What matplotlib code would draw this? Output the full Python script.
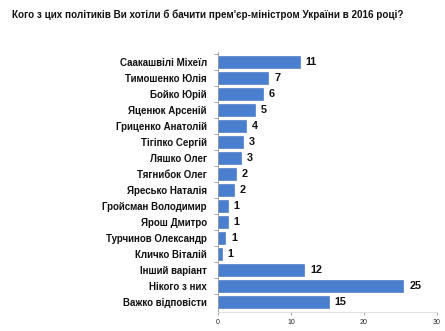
import matplotlib
matplotlib.use("Agg")
import matplotlib.pyplot as plt

categories = ["Саакашвілі Міхеїл", "Тимошенко Юлія", "Бойко Юрій", "Яценюк Арсеній",
              "Гриценко Анатолій", "Тігіпко Сергій", "Ляшко Олег", "Тягнибок Олег",
              "Яресько Наталія", "Гройсман Володимир", "Ярош Дмитро", "Турчинов Олександр",
              "Кличко Віталій", "Інший варіант", "Нікого з них", "Важко відповісти"]
values = [11.2, 6.9, 6.1, 5.1, 3.8, 3.4, 3.1, 2.4, 2.2, 1.3, 1.3, 1.0, 0.5, 11.8, 25.4, 15.2]
labels = ["11", "7", "6", "5", "4", "3", "3", "2", "2", "1", "1", "1", "1", "12", "25", "15"]
xticks = [0, 10, 20, 30]
title = "Кого з цих політиків Ви хотіли б бачити прем'єр-міністром України в 2016 році?"

plt.rcParams['font.family'] = ['Liberation Sans', 'DejaVu Sans']

fig = plt.figure(figsize=(4.45, 3.31), dpi=100)
ax = fig.add_axes([0.49, 0.057, 0.492, 0.786])
n = len(categories)
ypos = list(range(n))
ax.barh(ypos, values, height=0.75, color="#4a7fd0", edgecolor="#3f6fb8", linewidth=0.4)
for y, v, l in zip(ypos, values, labels):
    ax.text(v + 0.8, y, l, va="center", ha="left", fontsize=7.8, fontweight="bold", color="#111111")
ax.set_yticks(ypos)
ax.set_yticklabels(categories, fontsize=7, fontweight="bold", color="#111111")
ax.tick_params(axis="y", length=0, pad=8)
ax.set_yticks([y + 0.5 for y in ypos[:-1]] + [-0.5], minor=True)
ax.tick_params(axis="y", which="minor", length=3, color="#999999", width=0.6)
ax.set_ylim(n - 0.5 + 0.15, -0.5 - 0.15)
ax.set_xlim(0, 30)
ax.set_xticks(xticks)
ax.set_xticklabels([str(t) for t in xticks], fontsize=5, color="#222222")
ax.tick_params(axis="x", length=2, color="#999999", width=0.6, pad=3)
for s in ["top", "right"]:
    ax.spines[s].set_visible(False)
ax.spines["left"].set_color("#999999")
ax.spines["left"].set_linewidth(0.6)
ax.spines["bottom"].set_color("#dddddd")
ax.spines["bottom"].set_linewidth(0.6)
fig.text(0.027, 0.955, title, fontsize=7.15, fontweight="bold", color="#111111", va="center", ha="left")
fig.savefig("out.png", dpi=100)
